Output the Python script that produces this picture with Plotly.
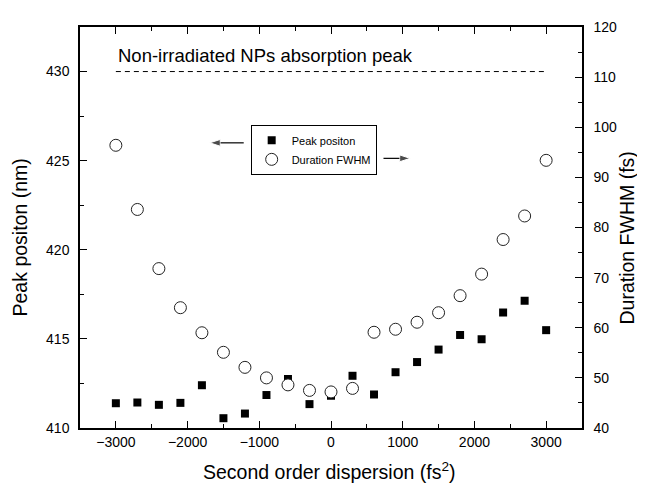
import plotly.graph_objects as go

# second order dispersion (fs^2)
dispersao = [-3000, -2700, -2400, -2100, -1800, -1500, -1200, -900, -600, -300, 0,
             300, 600, 900, 1200, 1500, 1800, 2100, 2400, 2700, 3000]

# peak position (nm) - left axis
pico = [411.39, 411.43, 411.30, 411.41, 412.40, 410.55, 410.81, 411.85, 412.75, 411.34, 411.81,
        412.93, 411.88, 413.13, 413.70, 414.40, 415.22, 414.98, 416.48, 417.14, 415.49]

# duration FWHM (fs) - right axis
duracao = [96.4, 83.6, 71.8, 64.0, 59.0, 55.1, 52.1, 50.0, 48.6, 47.5, 47.2,
           47.9, 59.1, 59.7, 61.1, 63.0, 66.4, 70.7, 77.6, 82.3, 93.4]

# reference line: non-irradiated NPs absorption peak
ref_x = [-3000, 3000]
ref_y = [430, 430]

# arrows pointing to each axis (tail -> head)
seta_esq_x = [-1217, -1690]
seta_esq_y = [426, 426]
seta_dir_x = [732, 1104]
seta_dir_y = [425.13, 425.13]

fonte = "Liberation Sans, Arial, sans-serif"

fig = go.Figure()

fig.add_trace(go.Scatter(
    x=ref_x, y=ref_y, mode="lines", showlegend=False,
    line=dict(color="black", width=1, dash="5px,4px"),
    hoverinfo="skip"
))

for sx, sy in [(seta_esq_x, seta_esq_y), (seta_dir_x, seta_dir_y)]:
    fig.add_trace(go.Scatter(
        x=sx, y=sy, mode="lines+markers", showlegend=False, hoverinfo="skip",
        line=dict(color="black", width=1.2),
        marker=dict(symbol="arrow", angleref="previous", size=[0, 11], color="black")
    ))

fig.add_trace(go.Scatter(
    x=dispersao, y=pico, mode="markers", name="Peak positon",
    marker=dict(symbol="square", size=8, color="black")
))

fig.add_trace(go.Scatter(
    x=dispersao, y=duracao, mode="markers", name="Duration FWHM", yaxis="y2",
    marker=dict(symbol="circle", size=12, color="white",
                line=dict(color="#222", width=1))
))

eixo = dict(showline=True, linecolor="black", linewidth=1.5, ticks="inside",
            ticklen=7, tickwidth=1.2, tickcolor="black", showgrid=False,
            zeroline=False, tickfont=dict(size=14, color="black", family=fonte))

# page body has an 8px margin, so the margins are shifted by 8px
fig.update_layout(
    width=645, height=486,
    margin=dict(l=72, r=71, t=11, b=66),
    paper_bgcolor="white", plot_bgcolor="white",
    font=dict(family=fonte, color="black"),
    xaxis=dict(range=[-3500, 3500], dtick=1000, tick0=0, mirror="ticks",
               minor=dict(dtick=500, ticklen=4, ticks="inside", tickcolor="black"),
               **eixo),
    yaxis=dict(range=[410, 432.5], dtick=5, tick0=410, ticklabelstandoff=6,
               minor=dict(dtick=2.5, ticklen=4, ticks="inside", tickcolor="black"),
               **eixo),
    yaxis2=dict(range=[40, 120], dtick=10, tick0=40, overlaying="y", side="right",
                ticklabelstandoff=7,
                minor=dict(dtick=5, ticklen=4, ticks="inside", tickcolor="black"),
                **eixo),
    legend=dict(x=0.34, y=0.756, xanchor="left", yanchor="top",
                bordercolor="black", borderwidth=1, bgcolor="white",
                font=dict(size=11, family=fonte), tracegroupgap=0),
    annotations=[
        dict(text="Non-irradiated NPs absorption peak", x=-3000, y=430.9,
             xref="x", yref="y", xanchor="left", yanchor="middle",
             showarrow=False, font=dict(size=18.5)),
        # axis titles
        dict(text="Peak positon (nm)", x=-0.1196, y=0.475, xref="paper", yref="paper",
             xanchor="center", yanchor="middle",
             textangle=-90, showarrow=False, font=dict(size=19.5)),
        dict(text="Duration FWHM (fs)", x=1.09, y=0.473, xref="paper", yref="paper",
             xanchor="center", yanchor="middle",
             textangle=-90, showarrow=False, font=dict(size=19.5)),
        dict(text="Second order dispersion (fs<sup>2</sup>)", x=0.498, y=-0.108,
             xref="paper", yref="paper", xanchor="center", yanchor="middle",
             showarrow=False, font=dict(size=19.5)),
    ],
)

fig.write_html("out.html")
